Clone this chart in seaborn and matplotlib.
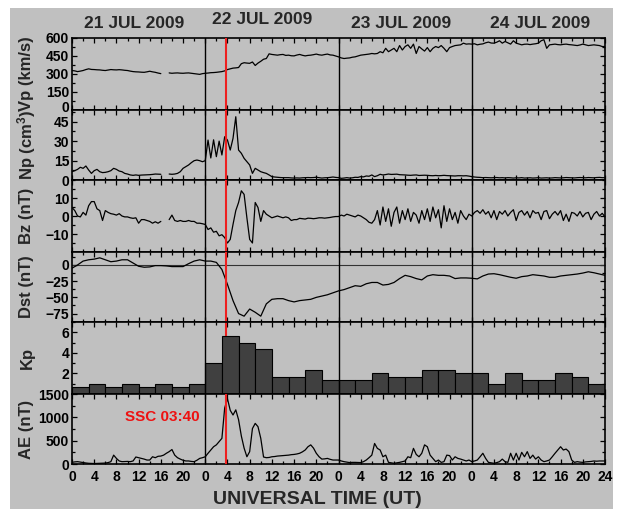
import numpy as np
import pandas as pd
import matplotlib
matplotlib.use("Agg")
import matplotlib.pyplot as plt
import seaborn as sns
from matplotlib.patches import Rectangle
from matplotlib.ticker import MultipleLocator, FuncFormatter
from matplotlib.transforms import ScaledTranslation

# ---------------- data (30-min samples unless noted) ----------------
day_titles = ["21 JUL 2009", "22 JUL 2009", "23 JUL 2009", "24 JUL 2009"]
ssc_hour = 24 + 3 + 40 / 60.0
ssc_label = "SSC 03:40"

vp21 = [329, 326, 320, 324, 329, 337, 343, 338,
        337, 335, 334, 331, 329, 333, 337, 335,
        334, 336, 334, 331, 329, 324, 320, 318,
        317, 315, 314, 318, 323, 318, 314, 308,
        303, np.nan, np.nan, 309, 306, 308, 309, 307,
        306, 308, 309, 306, 303, 300, 297, 303]
vp22 = [306, 308, 311, 312, 314, 317, 320, 326,
        337, 343, 349, 351, 354, 386, 394, 391,
        389, 400, 371, 391, 406, 423, 429, 468,
        463, 460, 457, 461, 463, 455, 457, 452,
        451, 458, 463, 456, 451, 455, 457, 461,
        466, 460, 457, 462, 466, 459, 457, 450]
vp23 = [443, 434, 429, 432, 434, 440, 443, 450,
        457, 460, 463, 466, 471, 468, 471, 486,
        477, 514, 486, 500, 514, 486, 537, 500,
        529, 543, 514, 549, 471, 529, 509, 491,
        520, 486, 514, 529, 520, 537, 514, 486,
        520, 529, 537, 540, 543, 557, 549, 551]
vp24 = [549, 552, 543, 548, 551, 560, 566, 558,
        557, 565, 577, 557, 571, 560, 549, 577,
        557, 550, 543, 548, 549, 545, 549, 552,
        557, 577, 586, 514, 543, 546, 549, 545,
        543, 547, 549, 545, 543, 540, 537, 542,
        549, 543, 537, 540, 543, 540, 537, 529, 529]

np21 = [6.4, 7.2, 8.2, 9.8, 9.0, 10.8, 7.7, 5.1,
        7.2, 8.2, 6.4, 5.7, 5.9, 6.4, 7.2, 9.0,
        8.2, 6.9, 6.4, 5.1, 4.6, 3.9, 3.6, 3.9,
        3.6, 3.8, 3.9, 4.0, 4.1, 4.3, 4.6, 4.5,
        4.4, np.nan, np.nan, 4.6, 4.4, 4.6, 5.1, 6.4,
        9.0, 10.3, 11.6, 13.4, 14.9, 15.4, 14.9, 14.1]
np22 = [14.9, 30.8, 17.0, 31.0, 18.0, 30.0, 19.3, 33.4,
        30.8, 23.1, 32.1, 48.8, 23.1, 20.6, 16.7, 14.1,
        11.6, 5.1, 9.0, 7.7, 6.4, 5.7, 5.1, 3.9,
        2.6, 2.3, 2.1, 1.9, 1.8, 1.8, 1.8, 1.6,
        1.5, 1.6, 1.5, 1.7, 1.8, 1.9, 1.8, 1.9,
        2.1, 1.8, 1.5, 1.7, 1.8, 2.0, 2.3, 2.0]
np23 = [1.8, 1.3, 1.5, 1.8, 1.5, 1.7, 2.1, 2.0,
        2.6, 2.4, 3.1, 2.9, 3.9, 2.6, 3.3, 4.4,
        3.9, 4.2, 4.6, 4.3, 4.4, 4.5, 4.1, 4.0,
        3.9, 3.7, 3.6, 3.8, 3.9, 3.5, 3.6, 3.7,
        3.6, 3.4, 3.3, 3.5, 3.3, 3.4, 3.6, 3.4,
        3.3, 3.2, 3.1, 3.3, 3.3, 3.2, 3.3, 3.0]
np24 = [2.6, 2.3, 2.1, 2.0, 1.8, 1.9, 1.8, 1.7,
        1.8, 1.9, 1.7, 1.8, 1.6, 1.8, 1.7, 1.5,
        1.7, 1.6, 1.8, 1.5, 1.6, 1.7, 1.5, 1.6,
        1.8, 1.5, 1.6, 1.7, 1.5, 1.6, 1.8, 1.7,
        1.6, 1.7, 1.9, 1.8, 1.7, 1.6, 1.8, 1.9,
        1.8, 1.7, 1.9, 1.8, 1.7, 1.9, 2.0, 1.8, 1.8]

bz21 = [4.7, 3.0, 0.0, -0.5, 2.0, 0.5, 5.7, 8.0,
        8.0, 4.0, 3.0, -2.5, 3.0, 2.0, 1.3, 1.0,
        0.5, 1.3, 0.0, -0.5, -0.5, -1.0, -1.3, -1.0,
        -4.0, -2.0, -2.0, -2.5, -3.0, -4.0, -3.2, -4.0,
        -3.0, np.nan, np.nan, -2.0, 0.5, -2.5, -3.0, -2.5,
        -3.0, -3.0, -2.5, -3.0, -3.0, -4.0, -4.0, -4.3]
bz22 = [-4.7, -7.5, -6.6, -9.0, -8.5, -11.0, -10.4, -12.0,
        -15.0, -13.0, -4.7, 3.0, 7.5, 14.0, 12.0, -1.0,
        -13.0, -15.0, 7.5, 4.7, -3.0, 3.0, 1.0, 0.0,
        -1.0, -0.5, 0.0, -0.5, -1.0, -0.5, -1.0, -2.5,
        -2.0, -2.0, -1.3, -1.5, -1.7, -1.2, -1.3, -1.5,
        -1.3, -1.0, -1.0, -1.2, -1.0, -0.8, -0.5, -0.3]
bz23 = [-0.3, 0.5, 0.0, 1.0, 0.5, 0.0, -0.5, 0.5,
        0.0, -1.0, -2.0, -3.5, -4.0, -2.0, 3.0, -5.0,
        5.0, -3.0, 4.0, -5.7, 2.0, 5.0, -4.0, 3.0,
        -2.0, 4.0, -3.0, 2.0, 0.5, -4.0, 3.0, -2.0,
        4.0, -3.0, 5.0, -1.0, 3.5, -6.6, 5.7, -3.0,
        4.0, -2.0, 2.0, -4.0, 3.0, 0.0, -2.0, 1.0]
bz24 = [0.0, 2.0, 3.0, 1.5, 3.5, 1.0, 2.5, -1.0,
        3.0, -2.0, 2.5, 1.0, 3.0, 0.0, 2.0, 3.5,
        -2.5, 2.0, 3.0, 0.5, 2.5, -1.0, 3.0, 1.5,
        2.0, -2.0, 2.5, 3.0, -1.5, 1.0, 2.5, 0.5,
        3.0, -2.5, 1.0, -3.0, 2.0, 1.5, 0.0, 2.5,
        -0.5, 1.5, 2.0, -2.0, 1.0, 2.5, 0.0, 1.5, -0.5]

# hourly Dst
dst21 = [-5, 0, 6, 8, 9, 11, 8, 5, 6, 8, 8, 3,
         -2, -3.5, -3, -1, -1, -1.5, -2.5, -2.5, -2.5, 2, 6, 8]
dst22 = [6, 6, 4, -7, -30, -55, -75, -79, -68, -73, -79, -60,
         -53, -52, -52, -55, -57, -55, -54, -53, -50, -48, -46, -43]
dst23 = [-40, -38, -35, -32, -33, -29, -27, -27, -31, -30, -27, -21,
         -16, -18, -21, -23, -17, -15, -16, -16, -17, -21, -20, -20]
dst24 = [-20.5, -21.5, -17, -14, -13.5, -15, -17, -19, -20.5, -18, -17, -15,
         -16, -17, -19, -19, -17, -16, -15, -14, -12.5, -10.5, -12, -14, -16]

# 3-hourly Kp
kp21 = [0.67, 1.0, 0.67, 1.0, 0.67, 1.0, 0.67, 1.0]
kp22 = [3.0, 5.67, 5.0, 4.33, 1.67, 1.67, 2.33, 1.33]
kp23 = [1.33, 1.33, 2.0, 1.67, 1.67, 2.33, 2.33, 2.0]
kp24 = [2.0, 1.0, 2.0, 1.33, 1.33, 2.0, 1.67, 1.0]

ae21 = [36, 45, 50, 40, 30, 22, 15, 12,
        10, 12, 15, 18, 20, 30, 50, 190,
        120, 65, 50, 52, 55, 50, 65, 150,
        135, 120, 105, 85, 85, 155, 135, 165,
        170, 190, 230, 265, 310, 190, 135, 105,
        80, 65, 65, 55, 50, 80, 120, 135]
ae22 = [155, 230, 300, 370, 410, 480, 550, 1200,
        1400, 1150, 1050, 1160, 950, 600, 340, 155,
        265, 760, 870, 800, 550, 150, 135, 140,
        155, 160, 170, 175, 180, 185, 190, 200,
        205, 215, 230, 260, 300, 370, 410, 340,
        230, 155, 105, 110, 120, 100, 85, 85]
ae23 = [85, 65, 50, 40, 30, 35, 35, 32,
        30, 50, 85, 135, 190, 440, 335, 300,
        155, 190, 35, 25, 15, 25, 35, 50,
        65, 155, 135, 335, 205, 155, 230, 410,
        370, 190, 120, 50, 85, 35, 50, 190,
        180, 85, 155, 120, 105, 85, 65, 85]
ae24 = [50, 65, 85, 155, 230, 120, 35, 25,
        15, 30, 50, 105, 50, 35, 230, 85,
        230, 85, 250, 155, 265, 120, 190, 105,
        155, 85, 50, 65, 85, 155, 230, 300,
        370, 300, 320, 265, 85, 35, 50, 40,
        35, 45, 50, 55, 65, 60, 65, 65, 65]

# ---------------- figure ----------------
sns.set_theme(style="ticks")
plt.rcParams["font.family"] = ["Liberation Sans", "DejaVu Sans"]
plt.rcParams["font.weight"] = "bold"
plt.rcParams["mathtext.fontset"] = "custom"
plt.rcParams["mathtext.rm"] = "Liberation Sans:bold"
plt.rcParams["mathtext.bf"] = "Liberation Sans:bold"
plt.rcParams["mathtext.default"] = "bf"

W, H = 620, 516
BG = "#c0c0c0"
fig = plt.figure(figsize=(W / 100, H / 100), dpi=100, facecolor="white")
fig.patches.append(Rectangle((10 / W, 1 - 509 / H), 603 / W, 501 / H,
                             transform=fig.transFigure, facecolor=BG,
                             edgecolor="none", zorder=-10))

X0, X1 = 72, 605
panels = [(38, 110), (110, 180), (180, 252), (252, 322), (322, 394), (394, 464)]
ylabels = ["Vp (km/s)", "Np (cm$^3$)", "Bz (nT)", "Dst (nT)", "Kp", "AE (nT)"]
ylims = [(0, 600), (0, 54), (-20, 20), (-88, 20), (0, 7), (0, 1500)]
yticks = [[0, 150, 300, 450, 600], [0, 15, 30, 45], [-10, 0, 10],
          [-75, -50, -25, 0], [2, 4, 6], [0, 500, 1000, 1500]]
yminor = [75, 7.5, 5, 12.5, 1, 250]

axes = []
for (yt, yb) in panels:
    ax = fig.add_axes([X0 / W, 1 - yb / H, (X1 - X0) / W, (yb - yt) / H])
    ax.set_facecolor(BG)
    axes.append(ax)


def draw_line(ax, values, step):
    t = np.arange(len(values)) * step
    df = pd.DataFrame({"t": t, "v": values})
    df["seg"] = df["v"].isna().cumsum()
    df = df.dropna()
    sns.lineplot(data=df, x="t", y="v", units="seg", estimator=None, sort=False,
                 color="black", lw=0.9, ax=ax, legend=False, zorder=2.5)


draw_line(axes[0], vp21 + vp22 + vp23 + vp24, 0.5)
draw_line(axes[1], np21 + np22 + np23 + np24, 0.5)
draw_line(axes[2], bz21 + bz22 + bz23 + bz24, 0.5)
draw_line(axes[3], dst21 + dst22 + dst23 + dst24, 1.0)
axes[3].axhline(0, color="#333333", lw=0.8, zorder=1)

kp_all = kp21 + kp22 + kp23 + kp24
kp_df = pd.DataFrame({"t": np.arange(len(kp_all)) * 3 + 1.5, "kp": kp_all})
sns.barplot(data=kp_df, x="t", y="kp", native_scale=True, width=1.0, ax=axes[4],
            color="#404040", saturation=1, edgecolor="black", linewidth=0.8,
            errorbar=None, zorder=2)

draw_line(axes[5], ae21 + ae22 + ae23 + ae24, 0.5)

fmt = FuncFormatter(lambda x, p: "24" if x >= 95.9 else str(int(round(x)) % 24))
for i, ax in enumerate(axes):
    ax.set_xlim(0, 96)
    ax.set_ylim(*ylims[i])
    ax.set_xlabel("")
    ax.set_ylabel("")
    ax.set_xticks(np.arange(0, 97, 4))
    ax.xaxis.set_minor_locator(MultipleLocator(2))
    ax.xaxis.set_major_formatter(fmt)
    ax.set_yticks(yticks[i])
    ax.yaxis.set_minor_locator(MultipleLocator(yminor[i]))
    ax.tick_params(which="both", direction="in", top=True, right=True,
                   length=3.5, width=0.9, colors="black", labelsize=10, pad=2)
    ax.tick_params(which="minor", length=2.5)
    ax.tick_params(axis="x", labelbottom=(i == len(axes) - 1), pad=4)
    for lab in ax.get_xticklabels() + ax.get_yticklabels():
        lab.set_fontweight("bold")
    for sp in ax.spines.values():
        sp.set_color("black")
        sp.set_linewidth(1.2)
        sp.set_visible(True)
    for d in (24, 48, 72):
        ax.axvline(d, color="black", lw=1.0, zorder=3)
    ax.axvline(ssc_hour, color="#ee2020", lw=1.5, zorder=(1.5 if i == 4 else 3.5))
    yt, yb = panels[i]
    fig.text(27 / W, 1 - (yt + yb) / 2 / H, ylabels[i], rotation=90, ha="center",
             va="center", fontsize=12, fontweight="bold")

# nudge the Vp "0" label up slightly so it does not collide with Np's "45"
vp_zero = axes[0].yaxis.get_major_ticks()[0].label1
vp_zero.set_transform(vp_zero.get_transform()
                      + ScaledTranslation(0, 2.5 / 72, fig.dpi_scale_trans))

axes[5].text(22.9, 1010, ssc_label, color="#ee1111", fontsize=11,
             fontweight="bold", ha="right", va="center")

title_pos = [(134, 23), (262, 20), (401, 24), (540, 24)]
for (tx, ty), s in zip(title_pos, day_titles):
    fig.text(tx / W, 1 - ty / H, s, ha="center", va="center", fontsize=12.5,
             fontweight="bold")

fig.text(317 / W, 1 - 500 / H, "UNIVERSAL TIME (UT)", ha="center", va="center",
         fontsize=14, fontweight="bold")

fig.savefig("out.png", dpi=100, facecolor="white")
